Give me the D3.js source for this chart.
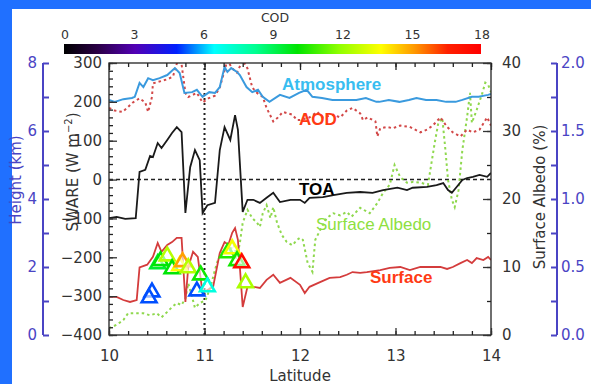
<!DOCTYPE html>
<html>
<head>
<meta charset="utf-8">
<script src="https://cdn.jsdelivr.net/npm/d3@7"></script>
<style>
  html, body { margin: 0; padding: 0; background: #2070ff; }
  svg { display: block; font-family: "DejaVu Sans", sans-serif; }
</style>
</head>
<body>
<svg id="chart" width="591" height="384"></svg>
<script>
// ---- data ----
const atmLat = [10.0,10.06,10.15,10.24,10.27,10.32,10.36,10.41,10.46,10.53,10.61,10.69,10.74,10.79,10.87,10.92,10.98,11.05,11.11,11.16,11.21,11.24,11.28,11.34,11.37,11.44,11.5,11.56,11.61,11.68,11.79,11.89,11.99,12.07,12.13,12.23,12.34,12.49,12.59,12.69,12.8,12.83,12.93,13.04,13.14,13.22,13.32,13.43,13.53,13.63,13.7,13.8,13.87,13.97,14.0];
const atmosphere = [205,200,207,210,213,249,238,261,256,261,269,287,274,223,225,231,213,225,223,238,290,277,287,277,269,238,225,231,213,200,218,210,223,231,213,210,205,205,205,210,200,200,205,200,205,210,205,205,200,200,205,213,213,218,220];

const aodLat = [10.0,10.06,10.14,10.19,10.25,10.32,10.38,10.41,10.45,10.46,10.51,10.61,10.67,10.72,10.76,10.8,10.83,10.92,10.98,11.04,11.11,11.16,11.24,11.29,11.34,11.4,11.45,11.5,11.55,11.61,11.65,11.72,11.77,11.82,11.92,11.97,12.0,12.1,12.18,12.24,12.35,12.42,12.49,12.55,12.63,12.66,12.71,12.79,12.81,12.84,12.91,12.97,13.05,13.15,13.26,13.33,13.39,13.47,13.54,13.6,13.68,13.75,13.81,13.88,13.96,14.0];
const aod = [1.67,1.65,1.64,1.67,1.71,1.74,1.71,1.64,1.75,1.85,1.86,1.88,1.90,2.02,1.99,1.78,1.75,1.78,1.71,1.74,1.76,1.82,2.02,1.96,1.93,2.02,1.96,1.82,1.78,1.75,1.67,1.57,1.60,1.64,1.62,1.58,1.58,1.60,1.64,1.60,1.62,1.60,1.65,1.67,1.63,1.58,1.60,1.57,1.46,1.52,1.53,1.52,1.54,1.53,1.49,1.51,1.54,1.60,1.53,1.49,1.46,1.51,1.49,1.51,1.60,1.54];

const toaLat = [10.0,10.08,10.17,10.28,10.32,10.38,10.43,10.46,10.51,10.55,10.61,10.66,10.71,10.76,10.8,10.85,10.9,10.95,10.98,11.03,11.11,11.16,11.21,11.27,11.32,11.35,11.4,11.45,11.51,11.58,11.65,11.72,11.79,11.9,12.0,12.05,12.1,12.24,12.35,12.49,12.63,12.76,12.87,13.02,13.12,13.18,13.33,13.43,13.5,13.55,13.59,13.64,13.7,13.75,13.81,13.88,13.96,14.0];
const toa = [-99,-96,-101,-99,20,25,61,58,94,81,102,120,135,122,-86,32,76,50,-86,-66,-60,76,135,102,166,128,-83,-52,-52,-60,-47,-34,-58,-52,-52,-60,-47,-45,-40,-34,-32,-34,-27,-21,-27,-21,-19,-14,-9,-27,-34,-19,-1,4,7,12,7,17];

const sfcLat = [10.0,10.08,10.15,10.22,10.29,10.32,10.4,10.46,10.51,10.55,10.61,10.66,10.71,10.76,10.8,10.83,10.88,10.93,10.98,11.03,11.09,11.16,11.21,11.25,11.29,11.32,11.35,11.4,11.45,11.51,11.58,11.65,11.72,11.79,11.9,12.0,12.05,12.1,12.21,12.31,12.42,12.49,12.55,12.63,12.7,12.84,12.94,13.05,13.15,13.26,13.36,13.47,13.54,13.6,13.68,13.75,13.8,13.85,13.92,13.97,14.0];
const surface = [-302,-302,-310,-315,-310,-226,-219,-199,-163,-186,-168,-161,-150,-150,-315,-225,-186,-199,-292,-284,-276,-189,-161,-168,-137,-125,-155,-328,-276,-276,-279,-258,-245,-266,-253,-271,-292,-276,-264,-253,-251,-245,-238,-240,-238,-233,-227,-225,-233,-225,-225,-225,-230,-225,-215,-207,-215,-202,-207,-199,-207];

const albLat = [10.0,10.08,10.15,10.2,10.29,10.36,10.43,10.5,10.55,10.61,10.66,10.71,10.76,10.8,10.83,10.87,10.9,10.95,11.01,11.06,11.11,11.14,11.18,11.24,11.27,11.3,11.34,11.37,11.4,11.45,11.5,11.55,11.58,11.61,11.65,11.69,11.72,11.76,11.81,11.86,11.92,11.97,12.0,12.03,12.08,12.13,12.16,12.21,12.28,12.35,12.42,12.49,12.54,12.63,12.73,12.81,12.87,12.94,12.99,13.05,13.12,13.18,13.26,13.34,13.41,13.45,13.49,13.52,13.55,13.59,13.62,13.66,13.7,13.75,13.78,13.8,13.85,13.91,13.94,13.97,14.0];
const albedo = [1.0,1.5,2.2,3.2,3.2,3.2,2.9,3.2,2.6,3.4,4.1,4.7,4.4,5.4,7.6,5.6,4.0,4.7,5.1,6.9,9.6,11.0,12.1,12.9,12.2,13.7,11.5,13.5,16.5,18.4,17.2,16.5,15.9,17.9,19.1,17.2,18.8,16.5,14.7,13.7,13.2,14.0,14.3,14.0,10.6,9.3,14.0,15.4,17.2,17.9,17.6,18.1,17.4,18.7,17.9,19.4,20.9,22.1,25.0,23.2,22.4,22.5,22.4,22.1,28.2,31.3,31.9,27.6,22.8,19.9,18.8,21.3,27.2,32.1,35.6,31.2,33.1,35.6,37.1,36.8,35.7];

// cloud tops (km) coloured by COD
const cldLat = [10.45,10.42,10.51,10.54,10.61,10.66,10.74,10.77,10.83,10.96,10.92,11.03,11.24,11.29,11.34,11.39,11.43];
const cldTop = [1.29,1.12,2.12,2.21,2.35,1.97,2.06,2.18,2.0,1.79,1.32,1.44,2.44,2.56,2.21,2.15,1.56];
const cod = [5.2,5.2,9.5,10,12.5,10,13.7,15,12.5,10.3,5.2,7,10.5,13.5,10.3,17.5,12.3];

const latTicks = [10, 11, 12, 13, 14];
const sweTicks = [-400, -300, -200, -100, 0, 100, 200, 300];
const albTicks = [0, 10, 20, 30, 40];
const hgtTicks = [0, 2, 4, 6, 8];
const aodTicks = [0, 0.5, 1, 1.5, 2];
const codTicks = [0, 3, 6, 9, 12, 15, 18];

// rainbow colour table (fraction, colour)
const ctStops = [0, 0.08, 0.17, 0.27, 0.36, 0.46, 0.56, 0.66, 0.76, 0.84, 0.92, 1];
const ctColors = ["#000000","#2a0045","#5200b4","#0020ff","#00ffff","#00ff90","#00e400","#90ff00","#ffff00","#ff9900","#ff2000","#ff0000"];

// ---- drawing ----
const svg = d3.select("#chart");
svg.append("rect").attr("x", 12).attr("y", 9).attr("width", 579).attr("height", 375).attr("fill", "#fff");

const L = 109, R = 491, T = 63, B = 335;
const x = d3.scaleLinear().domain([10, 14]).range([L, R]);
const yW = d3.scaleLinear().domain([-400, 300]).range([B, T]);
const yA = d3.scaleLinear().domain([0, 40]).range([B, T]);
const yH = d3.scaleLinear().domain([0, 8]).range([B, T]);
const yD = d3.scaleLinear().domain([0, 2]).range([B, T]);
const codColor = d3.scaleLinear().domain(ctStops.map(s => s * 18)).range(ctColors);

// colour bar
const cbx = d3.scaleLinear().domain([0, 18]).range([65, 482]);
const grad = svg.append("defs").append("linearGradient").attr("id", "ct");
ctStops.forEach((s, i) => grad.append("stop").attr("offset", s).attr("stop-color", ctColors[i]));
svg.append("rect").attr("x", 64).attr("y", 44).attr("width", 417).attr("height", 10).attr("fill", "url(#ct)");
svg.selectAll(".cbl").data(codTicks).join("text")
  .attr("x", d => cbx(d)).attr("y", 39).attr("text-anchor", "middle")
  .attr("font-size", 12.5).attr("fill", "#333").text(d => d);
svg.append("text").attr("x", 275).attr("y", 22).attr("text-anchor", "middle")
  .attr("font-size", 12.5).attr("fill", "#333").text("COD");

svg.append("clipPath").attr("id", "clip").append("rect")
  .attr("x", L).attr("y", T).attr("width", R - L).attr("height", B - T);
const plot = svg.append("g").attr("clip-path", "url(#clip)");

// reference lines
plot.append("line").attr("x1", L).attr("x2", R).attr("y1", yW(0)).attr("y2", yW(0))
  .attr("stroke", "#222").attr("stroke-width", 1.6).attr("stroke-dasharray", "4,3");
plot.append("line").attr("x1", x(11)).attr("x2", x(11)).attr("y1", T).attr("y2", B)
  .attr("stroke", "#222").attr("stroke-width", 2).attr("stroke-dasharray", "2,3");

const lineOf = ys => d3.line().x(d => x(d[0])).y(d => ys(d[1]));
plot.append("path").datum(d3.zip(albLat, albedo)).attr("d", lineOf(yA))
  .attr("fill", "none").attr("stroke", "#8fd84e").attr("stroke-width", 2).attr("stroke-dasharray", "2.5,3");
plot.append("path").datum(d3.zip(aodLat, aod)).attr("d", lineOf(yD))
  .attr("fill", "none").attr("stroke", "#d24848").attr("stroke-width", 2).attr("stroke-dasharray", "2.5,3");
plot.append("path").datum(d3.zip(atmLat, atmosphere)).attr("d", lineOf(yW))
  .attr("fill", "none").attr("stroke", "#3a9ade").attr("stroke-width", 2);
plot.append("path").datum(d3.zip(toaLat, toa)).attr("d", lineOf(yW))
  .attr("fill", "none").attr("stroke", "#1a1a1a").attr("stroke-width", 1.8);
plot.append("path").datum(d3.zip(sfcLat, surface)).attr("d", lineOf(yW))
  .attr("fill", "none").attr("stroke", "#d43c3c").attr("stroke-width", 1.8);

// cloud triangles
const tri = d3.symbol().type(d3.symbolTriangle).size(95);
plot.selectAll(".cld").data(d3.range(cldLat.length)).join("path")
  .attr("transform", i => `translate(${x(cldLat[i])},${yH(cldTop[i]) + 1})`)
  .attr("d", tri).attr("fill", "#fff").attr("fill-opacity", 0.6)
  .attr("stroke", i => codColor(cod[i])).attr("stroke-width", 2.6);

// frame
svg.append("rect").attr("x", L).attr("y", T).attr("width", R - L).attr("height", B - T)
  .attr("fill", "none").attr("stroke", "#222").attr("stroke-width", 1.3);

function styleAxis(g, col) {
  g.select(".domain").remove();
  g.selectAll("line").attr("stroke", col).attr("stroke-width", 1.3);
  g.selectAll("text").attr("fill", col).attr("font-size", 15).attr("font-family", "DejaVu Sans, sans-serif");
}
const minor = (a, b, s) => d3.range(a, b + s / 2, s);

// left W axis
svg.append("g").attr("transform", `translate(${L},0)`)
  .call(d3.axisLeft(yW).tickValues(minor(-400, 300, 20)).tickSize(-4).tickFormat(""))
  .call(g => styleAxis(g, "#222"));
svg.append("g").attr("transform", `translate(${L},0)`)
  .call(d3.axisLeft(yW).tickValues(sweTicks).tickSize(-8).tickPadding(7).tickFormat(d => d < 0 ? "\u2212" + (-d) : d))
  .call(g => styleAxis(g, "#333"));

// bottom / top latitude
svg.append("g").attr("transform", `translate(0,${B})`)
  .call(d3.axisBottom(x).tickValues(minor(10, 14, 0.2)).tickSize(-4).tickFormat(""))
  .call(g => styleAxis(g, "#222"));
svg.append("g").attr("transform", `translate(0,${B})`)
  .call(d3.axisBottom(x).tickValues(latTicks).tickSize(-7).tickPadding(15).tickFormat(d3.format("d")))
  .call(g => styleAxis(g, "#333"));
svg.append("g").attr("transform", `translate(0,${T})`)
  .call(d3.axisTop(x).tickValues(minor(10, 14, 0.2)).tickSize(-4).tickFormat(""))
  .call(g => styleAxis(g, "#222"));
svg.append("g").attr("transform", `translate(0,${T})`)
  .call(d3.axisTop(x).tickValues(latTicks).tickSize(-7).tickFormat(""))
  .call(g => styleAxis(g, "#222"));

// right albedo axis
svg.append("g").attr("transform", `translate(${R},0)`)
  .call(d3.axisRight(yA).tickValues(minor(0, 40, 5)).tickSize(-4).tickFormat(""))
  .call(g => styleAxis(g, "#222"));
svg.append("g").attr("transform", `translate(${R},0)`)
  .call(d3.axisRight(yA).tickValues(albTicks).tickSize(-8).tickPadding(11))
  .call(g => styleAxis(g, "#333"));

// far left height axis
const blue = "#4a44c4";
svg.append("g").attr("transform", "translate(43,0)")
  .call(d3.axisRight(yH).tickValues(minor(0, 8, 1)).tickSize(6).tickFormat(""))
  .call(g => { styleAxis(g, blue); g.selectAll("line").attr("stroke-width", 2); });
svg.append("line").attr("x1", 43).attr("x2", 43).attr("y1", T).attr("y2", B).attr("stroke", blue).attr("stroke-width", 2);
svg.selectAll(".hl").data(hgtTicks).join("text")
  .attr("x", 37).attr("y", d => yH(d)).attr("dy", "0.36em").attr("text-anchor", "end")
  .attr("font-size", 15).attr("fill", blue).text(d => d);

// far right AOD axis
svg.append("g").attr("transform", "translate(557,0)")
  .call(d3.axisLeft(yD).tickValues(minor(0, 2, 0.25)).tickSize(6).tickFormat(""))
  .call(g => { styleAxis(g, blue); g.selectAll("line").attr("stroke-width", 2); });
svg.append("line").attr("x1", 557).attr("x2", 557).attr("y1", T).attr("y2", B).attr("stroke", blue).attr("stroke-width", 2);
svg.selectAll(".dl").data(aodTicks).join("text")
  .attr("x", 561).attr("y", d => yD(d)).attr("dy", "0.36em")
  .attr("font-size", 15).attr("fill", blue).text(d => d.toFixed(1));

// axis titles
svg.append("text").attr("transform", "translate(21,180) rotate(-90)").attr("text-anchor", "middle")
  .attr("font-size", 15).attr("fill", blue).text("Height (km)");
const sw = svg.append("text").attr("transform", "translate(78,172) rotate(-90)").attr("text-anchor", "middle")
  .attr("font-size", 15).attr("fill", "#333");
sw.append("tspan").text("SWARE (W m");
sw.append("tspan").attr("font-size", 10).attr("dy", -6).text("\u22122");
sw.append("tspan").attr("dy", 6).text(")");
svg.append("text").attr("transform", "translate(545,197) rotate(-90)").attr("text-anchor", "middle")
  .attr("font-size", 15).attr("fill", "#333").text("Surface Albedo (%)");
svg.append("text").attr("x", 300).attr("y", 381).attr("text-anchor", "middle")
  .attr("font-size", 15).attr("fill", "#333").text("Latitude");

// series labels
const lab = (t, xx, yy, col, bold) => svg.append("text").attr("x", xx).attr("y", yy)
  .attr("font-family", "Liberation Sans, Arial, sans-serif").attr("font-size", 17)
  .attr("font-weight", bold ? "bold" : "normal").attr("fill", col).text(t);
lab("Atmosphere", 282, 90, "#38bdf0", true);
lab("AOD", 299, 125, "#ff3a14", true);
lab("TOA", 299, 195, "#000", true);
lab("Surface Albedo", 316, 230, "#8ee040", false);
lab("Surface", 370, 283, "#ff3a14", true);
</script>
</body>
</html>
